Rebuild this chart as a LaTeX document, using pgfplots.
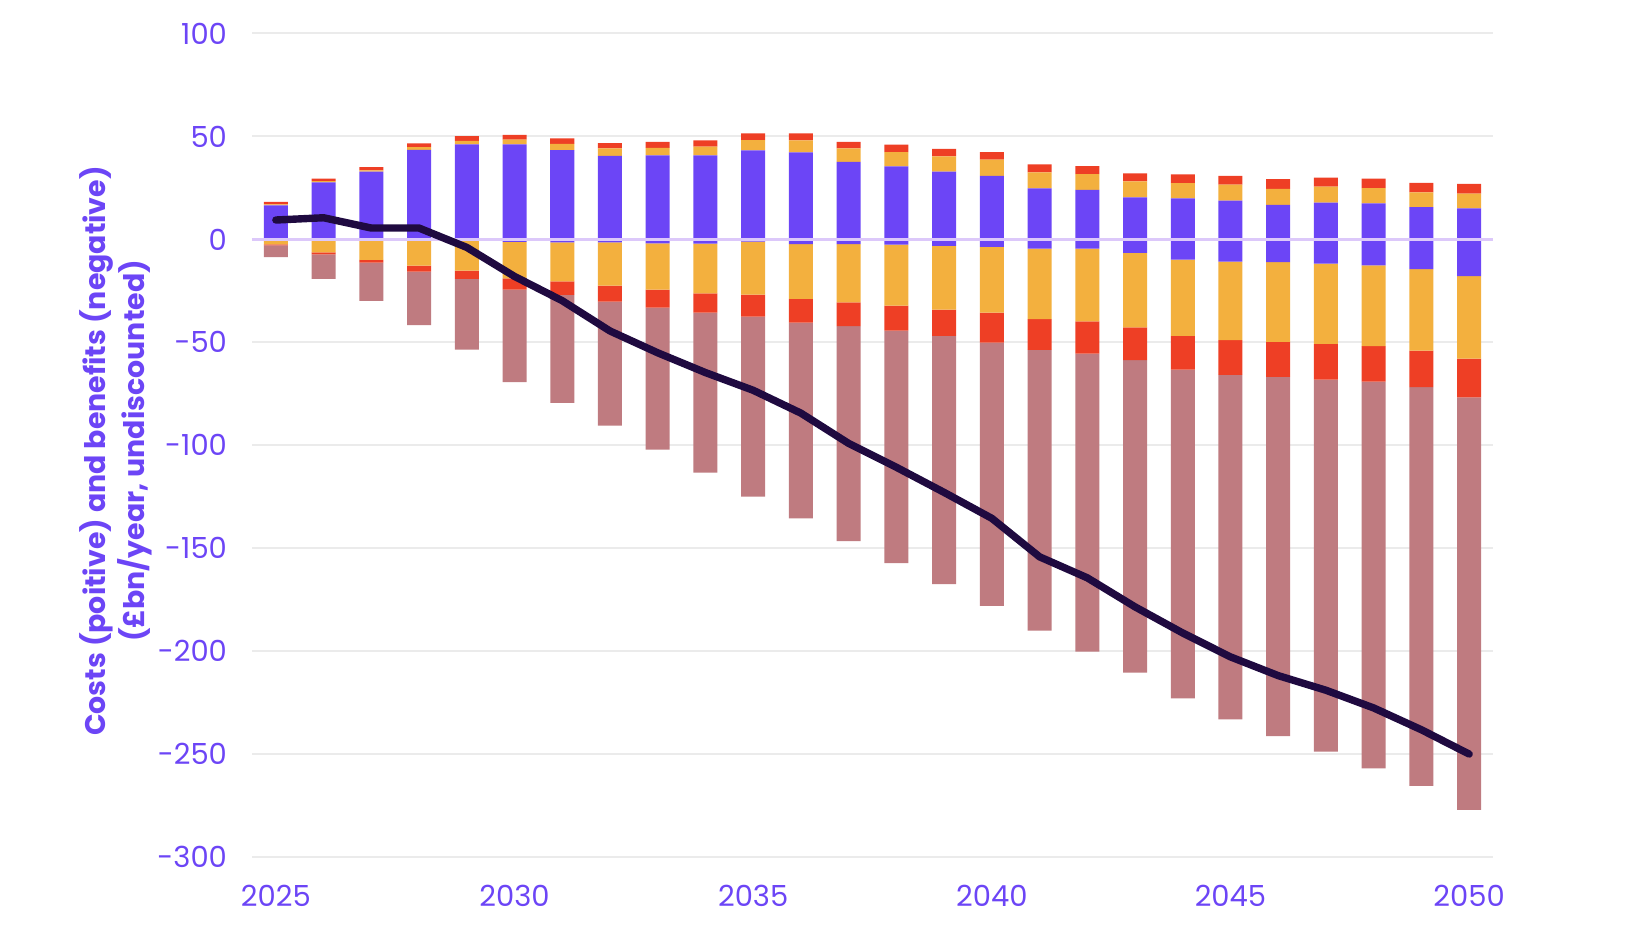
\documentclass[border=0pt]{standalone}
\usepackage{pgfplots}
\usepackage{pgfplotstable}
\usepackage{fontspec}
\pgfplotsset{compat=1.18}
\setmainfont{Poppins}

\definecolor{cpurple}{HTML}{6C45F6}
\definecolor{corange}{HTML}{F3B03E}
\definecolor{cred}{HTML}{EE3F25}
\definecolor{cbrown}{HTML}{BF7B80}
\definecolor{cline}{HTML}{1F0A40}
\definecolor{cgrid}{HTML}{EBEBEB}
\definecolor{czero}{HTML}{DCC8FA}

% year, costs (positive) and benefits (negative) by group, net line
\pgfplotstableread{
year pp po pr np no nr nb net
2025 16.5 0.5 1.2  0.0  -2.4  -0.5   -5.7    9.4
2026 27.7 0.6 1.2  0.0  -6.3  -1.0  -11.9   10.5
2027 32.9 0.6 1.6  0.0  -9.9  -1.4  -18.6    5.5
2028 43.5 1.3 1.8  0.0 -12.8  -2.9  -25.9    5.5
2029 46.1 1.8 2.3 -0.3 -14.9  -4.0  -34.3   -3.9
2030 46.1 2.3 2.4 -1.2 -17.7  -5.5  -44.9  -18.0
2031 43.4 3.0 2.6 -1.5 -18.9  -6.6  -52.4  -29.8
2032 40.5 3.7 2.6 -1.4 -21.1  -7.7  -60.3  -44.5
2033 40.8 3.7 2.9 -1.9 -22.5  -8.8  -68.9  -55.1
2034 40.8 4.3 3.0 -2.1 -24.1  -9.4  -77.7  -64.7
2035 43.2 5.0 3.3 -1.1 -25.7 -10.7  -87.4  -73.3
2036 42.2 5.9 3.4 -2.3 -26.6 -11.5  -95.1  -84.4
2037 37.7 6.5 3.2 -2.3 -28.3 -11.5 -104.5  -99.1
2038 35.4 7.0 3.6 -2.6 -29.6 -12.1 -113.0 -110.7
2039 32.9 7.4 3.6 -3.1 -31.0 -12.8 -120.5 -122.9
2040 30.8 7.9 3.7 -3.6 -32.0 -14.5 -127.9 -135.5
2041 24.8 7.7 3.9 -4.5 -34.2 -15.0 -136.4 -154.2
2042 24.1 7.6 3.9 -4.5 -35.3 -15.7 -144.8 -164.4
2043 20.4 7.8 3.8 -6.6 -36.1 -15.9 -151.8 -178.5
2044 19.9 7.4 4.3 -9.8 -37.1 -16.4 -159.7 -191.2
2045 18.8 7.8 4.3 -10.8 -38.2 -16.8 -167.4 -202.8
2046 16.8 7.7 4.8 -11.1 -38.7 -17.0 -174.5 -211.9
2047 17.8 7.8 4.4 -11.8 -39.0 -17.3 -180.7 -219.0
2048 17.5 7.4 4.6 -12.6 -39.3 -17.2 -187.8 -227.6
2049 15.7 7.1 4.7 -14.4 -39.6 -17.8 -193.7 -238.2
2050 15.0 7.2 4.8 -17.8 -40.1 -18.9 -200.3 -250.0
}\data

\pgfplotsset{
  frame/.style={
    scale only axis,
    width=620.5pt, height=411.75pt,
    xmin=2024.5, xmax=2050.5,
    ymin=-300, ymax=100,
  },
  bars/.style={frame, ybar stacked, bar width=12pt},
}

\begin{document}
\begin{tikzpicture}
\begin{axis}[bars,
    axis line style={draw=none},
    major tick length=0pt,
    xtick={2025,2030,...,2050},
    xticklabels={2025,2030,2035,2040,2045,2050},
    ytick={-300,-250,...,100},
    yticklabels={-300,-250,-200,-150,-100,-50,0,50,100},
    ymajorgrids, grid style={cgrid, line width=1pt},
    ticklabel style={font=\fontsize{14.5}{17}\selectfont, text=cpurple},
    yticklabel style={xshift=-9pt},
    xticklabel style={yshift=-10.5pt},
    ylabel={Costs (poitive) and benefits (negative)\\(£bn/year, undiscounted)},
    ylabel style={at={(rel axis cs:-0.1096,0.493)}, anchor=center,
      align=center, font=\fontsize{14.2}{19.5}\selectfont\bfseries, text=cpurple},
  ]
  \coordinate (sw) at (rel axis cs:0,0);
  \coordinate (ne) at (rel axis cs:1,1);
  \addplot[fill=cpurple, draw=none] table[x=year, y=pp] {\data};
  \addplot[fill=corange, draw=none] table[x=year, y=po] {\data};
  \addplot[fill=cred, draw=none] table[x=year, y=pr] {\data};
\end{axis}
\begin{axis}[bars, hide axis]
  \addplot[fill=cpurple, draw=none] table[x=year, y=np] {\data};
  \addplot[fill=corange, draw=none] table[x=year, y=no] {\data};
  \addplot[fill=cred, draw=none] table[x=year, y=nr] {\data};
  \addplot[fill=cbrown, draw=none] table[x=year, y=nb] {\data};
\end{axis}
\begin{axis}[frame, hide axis]
  \addplot[czero, line width=1.2pt] coordinates {(2024.5,0) (2050.5,0)};
  \addplot[cline, line width=3.7pt, line cap=round, line join=round, mark=none]
    table[x=year, y=net] {\data};
\end{axis}
\pgfresetboundingbox
\path[use as bounding box] ([shift={(-126pt,-45.5pt)}]sw) rectangle ([shift={(70.5pt,16.75pt)}]ne);
\end{tikzpicture}
\end{document}
